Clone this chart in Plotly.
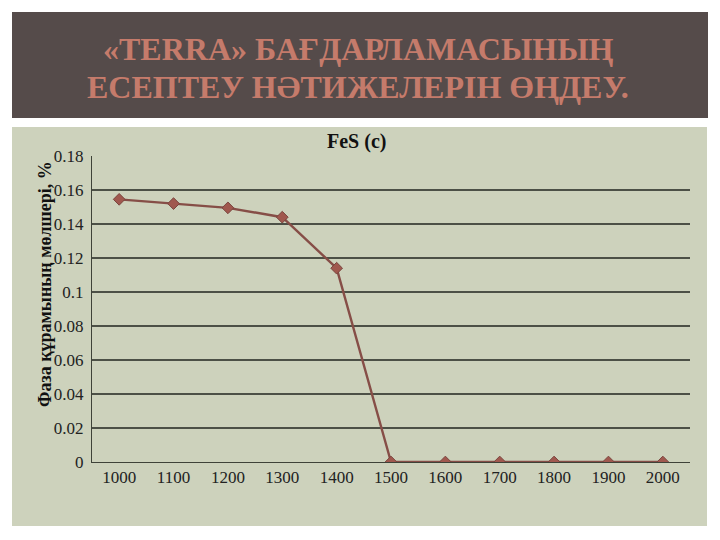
import plotly.graph_objects as go

temps = ["1000", "1100", "1200", "1300", "1400", "1500", "1600", "1700", "1800", "1900", "2000"]
fes = [0.1545, 0.152, 0.1495, 0.144, 0.114, 0.0, 0.0, 0.0, 0.0, 0.0, 0.0]
y_ticks = [0, 0.02, 0.04, 0.06, 0.08, 0.1, 0.12, 0.14, 0.16, 0.18]
y_tick_text = ["0", "0.02", "0.04", "0.06", "0.08", "0.1", "0.12", "0.14", "0.16", "0.18"]

banner_line1 = "«TERRA» БАҒДАРЛАМАСЫНЫҢ"
banner_line2 = "ЕСЕПТЕУ НӘТИЖЕЛЕРІН ӨҢДЕУ."
chart_title = "FeS (c)"
y_title = "Фаза құрамының мөлшері, %"

W, H = 720, 540
L, R, T, B = 92, 30, 156, 78
pw, ph = W - L - R, H - T - B

def px(x):
    return (x - L) / pw

def py(y):
    return (H - B - y) / ph

fig = go.Figure()
fig.add_trace(go.Scatter(
    x=temps, y=fes, mode="lines+markers",
    line=dict(color="#864e47", width=2.4),
    marker=dict(symbol="diamond", size=9, color="#a0584e", line=dict(color="#7a453e", width=1)),
    showlegend=False,
))

serif = "Liberation Serif"

fig.update_layout(
    width=W, height=H,
    margin=dict(l=L, r=R, t=T, b=B),
    paper_bgcolor="white",
    plot_bgcolor="rgba(0,0,0,0)",
    font=dict(family=serif, color="#222222"),
    xaxis=dict(
        type="category", range=[-0.5, 10.5],
        showgrid=False, showline=True, linecolor="#3e4238", linewidth=1,
        ticks="", tickfont=dict(size=17, family=serif, color="#222"),
        zeroline=False,
    ),
    yaxis=dict(
        range=[0, 0.18], tickvals=y_ticks, ticktext=y_tick_text,
        showgrid=True, gridcolor="#4c5046", gridwidth=1.6,
        showline=True, linecolor="#3e4238", linewidth=1,
        ticks="", tickfont=dict(size=17, family=serif, color="#222"),
        ticklabelstandoff=4,
        zeroline=False,
    ),
    shapes=[
        dict(type="rect", xref="paper", yref="paper",
             x0=px(12), x1=px(708), y0=py(118), y1=py(12),
             fillcolor="#554b4a", line=dict(width=0), layer="below"),
        dict(type="rect", xref="paper", yref="paper",
             x0=px(12), x1=px(707), y0=py(526), y1=py(127),
             fillcolor="#cdd2bc", line=dict(width=0), layer="below"),
    ],
    annotations=[
        dict(text="<b>" + banner_line1 + "</b>", xref="paper", yref="paper",
             x=px(358), y=py(49), showarrow=False, xanchor="center", yanchor="middle",
             font=dict(family=serif, size=32, color="#c57b6b")),
        dict(text="<b>" + banner_line2 + "</b>", xref="paper", yref="paper",
             x=px(358), y=py(87), showarrow=False, xanchor="center", yanchor="middle",
             font=dict(family=serif, size=32, color="#c57b6b")),
        dict(text="<b>" + chart_title + "</b>", xref="paper", yref="paper",
             x=px(356), y=py(142), showarrow=False, xanchor="center", yanchor="middle",
             font=dict(family=serif, size=20, color="#111")),
        dict(text="<b>" + y_title + "</b>", xref="paper", yref="paper",
             x=px(45), y=py(284), showarrow=False, xanchor="center", yanchor="middle",
             textangle=-90,
             font=dict(family=serif, size=18, color="#111")),
    ],
)

fig.write_html("out.html", config={"displayModeBar": False},
               post_script="document.body.style.margin='0';document.body.style.overflow='hidden';")
